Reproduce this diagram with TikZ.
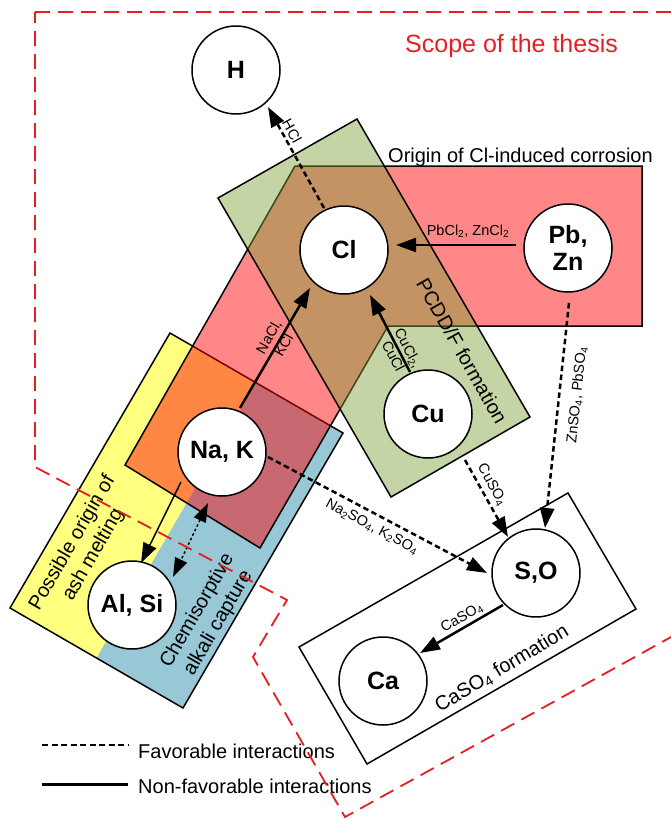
\documentclass[tikz,border=0pt]{standalone}
\usepackage{fontspec}
\setmainfont{Liberation Sans}
\usetikzlibrary{arrows.meta,calc}

\definecolor{scopered}{RGB}{230,30,36}
\definecolor{ashyellow}{RGB}{255,255,128}
\definecolor{captureblue}{RGB}{152,199,214}
\definecolor{corrred}{RGB}{255,0,0}
\definecolor{pcddgreen}{RGB}{127,161,59}

\newcommand{\elemfont}{\fontsize{25}{27}\selectfont\bfseries}
\newcommand{\arrfont}{\fontsize{14.5}{17}\selectfont}
\newcommand{\areafont}{\fontsize{20}{24}\selectfont}
\newcommand{\scopefont}{\fontsize{25}{29}\selectfont}

\tikzset{
  elem/.style={circle, draw, line width=1.5, fill=white, minimum size=88,
    inner sep=0pt, font=\elemfont, align=center},
  region/.style={draw=black, line width=1.5, line join=miter},
  bigtip/.style={-{Triangle[length=20,width=14]}},
  favarrow/.style={bigtip, line width=2.5, dash pattern=on 5.5 off 3.5},
  nonfavarrow/.style={bigtip, line width=2.5},
  thinarrow/.style={bigtip, line width=1.5},
  dotarrow/.style={{Triangle[length=19,width=13]}-{Triangle[length=19,width=13]},
    line width=1.5, dash pattern=on 2.5 off 2.5},
  lbl/.style={font=\arrfont, inner sep=0pt, align=center},
  arealbl/.style={font=\areafont, inner sep=0pt, align=center},
  legdash/.style={line width=2.2, dash pattern=on 6 off 3.5},
  legsolid/.style={line width=3},
  scopeline/.style={draw=scopered, line width=1.8, dash pattern=on 15 off 8}
}

\begin{document}
\begin{tikzpicture}[x=1pt,y=-1pt]
\useasboundingbox (0,0) rectangle (671,820);
\clip (0,0) rectangle (671,820);

% ash melting / alkali capture band (yellow and blue halves)
\fill[ashyellow] (170,333) -- (256.5,383) -- (96.5,658) -- (10,608) -- cycle;
\fill[captureblue] (256.5,383) -- (343,433) -- (183,708) -- (96.5,658) -- cycle;
\draw[region] (170,333) -- (343,433) -- (183,708) -- (10,608) -- cycle;

% Cl-induced corrosion area
\draw[region, fill=corrred, fill opacity=0.47]
  (295,166) -- (642,166) -- (642,326) -- (388,326) -- (260,548) -- (125,465) -- cycle;

% PCDD/F formation band
\draw[region, fill=pcddgreen, fill opacity=0.46]
  (357,119) -- (530,417) -- (391,497) -- (218,198) -- cycle;

% CaSO4 formation box
\draw[region] (568,493) -- (636,609) -- (367,764) -- (299,647) -- cycle;

% elements
\node[elem] (H)    at (236,70)  {H};
\node[elem] (Cl)   at (344,250) {Cl};
\node[elem] (PbZn) at (568,248) {Pb,\\Zn};
\node[elem] (Cu)   at (428,414) {Cu};
\node[elem] (NaK)  at (222,452) {Na, K};
\node[elem] (AlSi) at (132,605) {Al, Si};
\node[elem] (SO)   at (536,573) {S,O};
\node[elem] (Ca)   at (383,681) {Ca};

% interactions
\draw[favarrow] ($(Cl)+(-20,-42)$) -- ($(H)+(32,37)$);
\node[lbl, rotate=-61] (tHCl) at (292,131) {HCl};

\draw[nonfavarrow] ($(PbZn)+(-52,-3)$) -- ($(Cl)+(52,-5)$);
\node[lbl] (tPbCl) at (468,231) {PbCl\textsubscript{2}, ZnCl\textsubscript{2}};

\draw[nonfavarrow] ($(NaK)+(18,-44)$) -- ($(Cl)+(-34,38)$);
\node[lbl, rotate=60] (tNaCl) at (276,341) {NaCl,\\KCl};

\draw[nonfavarrow] ($(Cu)+(-18,-42)$) -- ($(Cl)+(26,45)$);
\node[lbl, rotate=-62.5] (tCuCl) at (401,352) {CuCl\textsubscript{2},\\CuCl};

\draw[favarrow] ($(NaK)+(46,5)$) -- ($(SO)+(-49,0)$);
\node[lbl, rotate=-28] (tNaSO) at (372,527) {Na\textsubscript{2}SO\textsubscript{4}, K\textsubscript{2}SO\textsubscript{4}};

\draw[favarrow] ($(Cu)+(37,46)$) -- ($(SO)+(-28,-36)$);
\node[lbl, rotate=-61] (tCuSO) at (492,485) {CuSO\textsubscript{4}};

\draw[favarrow] ($(PbZn)+(1,55)$) -- ($(SO)+(9,-45)$);
\node[lbl, rotate=84] (tZnSO) at (577,395) {ZnSO\textsubscript{4}, PbSO\textsubscript{4}};

\draw[nonfavarrow] ($(SO)+(-33,32)$) -- ($(Ca)+(37,-28)$);
\node[lbl, rotate=30] (tCaSO) at (462,618) {CaSO\textsubscript{4}};

\draw[thinarrow] ($(NaK)+(-41,30)$) -- ($(AlSi)+(9,-42)$);
\draw[dotarrow] ($(NaK)+(-14,51)$) -- ($(AlSi)+(41,-28)$);

% area captions
\node[arealbl, anchor=base west] (tOrigin) at (388,162) {Origin of Cl-induced corrosion};
\node[arealbl, rotate=-60.5] (tPCDD) at (462,351) {PCDD/F formation};
\node[arealbl, rotate=60] (tAsh) at (83,549) {Possible origin of\\ash melting};
\node[arealbl, rotate=60] (tChem) at (208,617) {Chemisorptive\\alkali capture};
\node[arealbl, rotate=31] (tCaF) at (502,669) {CaSO\textsubscript{4} formation};

% legend
\coordinate (favA) at (42,745);
\coordinate (favB) at (128,745);
\coordinate (nonA) at (42,784);
\coordinate (nonB) at (128,784);
\draw[legdash] (favA) -- (favB);
\draw[legsolid] (nonA) -- (nonB);
\node[arealbl, anchor=base west] (tFav) at (138,758) {Favorable interactions};
\node[arealbl, anchor=base west] (tNon) at (138,793) {Non-favorable interactions};

% scope of the thesis
\draw[scopeline] (35,12) -- (720,12) -- (720,610) -- (345,817) -- (253,657)
  -- (287,600) -- (35,467) -- cycle;
\node[anchor=base west, inner sep=0pt, font=\scopefont, text=scopered] (tScope)
  at (405,52) {Scope of the thesis};
\end{tikzpicture}
\end{document}
